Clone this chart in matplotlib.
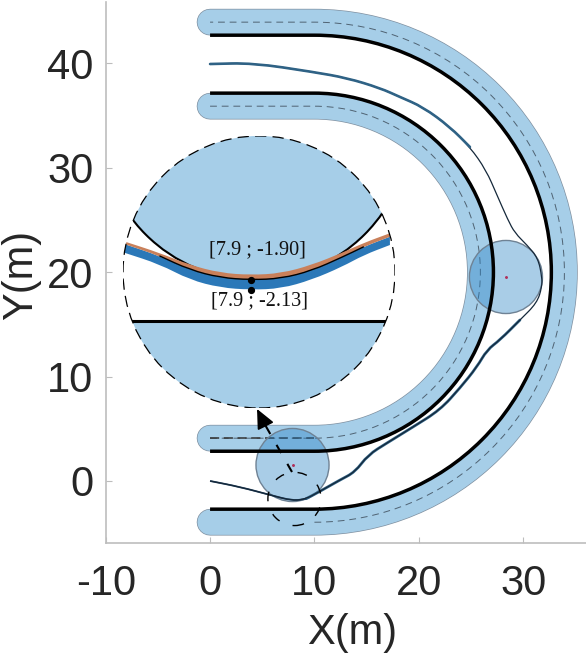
import matplotlib
matplotlib.use("Agg")
import numpy as np
import matplotlib.pyplot as plt
from matplotlib.patches import Circle, PathPatch
from matplotlib.path import Path

# road geometry (m)
bend_center = (10, 20)
road_outer = 22.7
road_inner = 17.15
band_outer = 23.95
band_inner = 15.9

# obstacles
obstacle_x = [7.9, 28.35]
obstacle_y = [1.53, 19.54]
obstacle_r = 3.5

# vehicle path
path_x = [0, 2.87, 5.75, 7.95, 9.2, 10.25, 12.45, 13.89, 15.13, 16.95, 19.44, 22.03,
          23.95, 25.57, 26.53, 27.78, 29.69, 31.32, 31.8, 31.8, 31.42, 30.36, 29.21,
          28.54, 27.49, 26.44, 24.9, 22.99, 20.4, 18.2, 16.28, 13.12, 9.87, 4.12, 0]
path_y = [0, -0.57, -1.34, -1.9, -1.7, -1.15, 0.1, 0.86, 2.49, 3.64, 5.17, 6.8,
          8.91, 10.92, 12.55, 13.51, 15.42, 17.05, 18.58, 19.54, 21.36, 22.61, 23.75,
          25.0, 27.39, 29.79, 31.99, 33.91, 35.82, 36.78, 37.64, 38.6, 39.18, 40.04, 39.94]

# zoomed part
zoom_center = (8.09, -1.72)
zoom_r = 2.55
inset_center = (4.69, 20.02)
inset_r = 13.03
zoom_x = [5.0, 5.8, 6.5, 7.2, 7.9, 8.6, 9.3, 10.0, 10.5, 11.1]
orange_top = [-1.02, -1.28, -1.56, -1.74, -1.79, -1.75, -1.56, -1.28, -1.05, -0.83]
orange_bot = [-1.08, -1.35, -1.67, -1.85, -1.90, -1.87, -1.69, -1.38, -1.14, -0.91]
blue_bot = [-1.28, -1.54, -1.90, -2.08, -2.13, -2.10, -1.90, -1.60, -1.33, -1.10]
mark_x = [7.9, 7.9]
mark_y = [-1.90, -2.13]
arrow_x = [7.85, 5.2, 4.5]
arrow_y = [0.86, 5.5, 6.9]

BAND = "#A6CEE8"
EDGE = "#7F8F9F"
TEXT = "#262626"
GREY = "#BDBDBD"

plt.rcParams["font.family"] = ["Liberation Sans", "DejaVu Sans"]
plt.rcParams["axes.unicode_minus"] = False
W, H = 586, 657
fig = plt.figure(figsize=(W / 100, H / 100), dpi=100)
ax = fig.add_axes([105.7 / W, (H - 543) / H, (W - 105.7) / W, 541 / H])
ax.set_xlim(-10, 36.02)
ax.set_ylim(-5.94, 45.88)


def road_path(r, straight_start=True):
    arc = Path.arc(-90, 90)
    cx, cy = bend_center
    keep = arc.codes != Path.CLOSEPOLY
    pts = arc.vertices[keep] * r + [cx, cy]
    codes = list(arc.codes[keep])
    if straight_start:
        pts = np.vstack([[0, cy - r], pts, [0, cy + r]])
        codes = [Path.MOVETO, Path.LINETO] + codes[1:] + [Path.LINETO]
    else:
        pts = np.vstack([pts, [0, cy + r]])
        codes = codes + [Path.LINETO]
    return Path(pts, codes)


def curve_parts(x, y, first=Path.MOVETO):
    # quadratic curve that uses the read points as control points
    p = np.column_stack([x, y])
    mid = (p[:-1] + p[1:]) / 2
    verts = [p[0], mid[0]]
    codes = [first, Path.LINETO]
    for i in range(1, len(p) - 1):
        verts += [p[i], mid[i]]
        codes += [Path.CURVE3, Path.CURVE3]
    verts.append(p[-1])
    codes.append(Path.LINETO)
    return verts, codes


def draw_curve(axes, x, y, **kw):
    verts, codes = curve_parts(x, y)
    return axes.add_patch(PathPatch(Path(verts, codes), fill=False, **kw))


def draw_strip(axes, x, top, bot, color, zorder):
    v1, c1 = curve_parts(x, top)
    v2, c2 = curve_parts(x[::-1], bot[::-1], first=Path.LINETO)
    return axes.add_patch(PathPatch(Path(v1 + v2, c1 + c2), fc=color, ec="none", zorder=zorder))


# blue road bands
for r in [band_outer, band_inner]:
    ax.add_patch(PathPatch(road_path(r), fill=False, lw=19.2, ec=EDGE, capstyle="round", zorder=1))
    ax.add_patch(PathPatch(road_path(r), fill=False, lw=18.2, ec=BAND, capstyle="round", zorder=1.1))

# dashed centre lines
ax.add_patch(PathPatch(road_path(band_outer, False), fill=False, lw=0.7, ec="#4F6272",
                       ls=(0, (7, 5)), zorder=1.2))
ax.add_patch(PathPatch(road_path(band_inner), fill=False, lw=0.7, ec="#4F6272",
                       ls=(0, (7, 5)), zorder=1.2))
ax.plot([0, 10], [20 - band_inner, 20 - band_inner], color="#333333", lw=1.1, ls=(0, (6, 3)), zorder=1.3)

# obstacles
for ox, oy in zip(obstacle_x, obstacle_y):
    ax.add_patch(Circle((ox, oy), obstacle_r, fc=(40 / 255, 130 / 255, 197 / 255, 0.4),
                        ec="#6F8294", lw=1, zorder=2))
    ax.plot(ox, oy, ".", color="#B0305A", ms=2.2, zorder=2.1)

# road edges
for r in [road_outer, road_inner]:
    ax.add_patch(PathPatch(road_path(r), fill=False, lw=2.5, ec="black", capstyle="butt", zorder=3))

# vehicle path: one whole curve, wider pieces laid under it
draw_curve(ax, path_x, path_y, ec="#15283A", lw=0.9, zorder=4.1)
draw_curve(ax, path_x[4:17], path_y[4:17], ec="#2F6285", lw=2, capstyle="round", zorder=4)
draw_curve(ax, path_x[:5], path_y[:5], ec="#1F3F5C", lw=1.3, zorder=4)
draw_curve(ax, path_x[26:], path_y[26:], ec="#2F6285", lw=1.9, capstyle="round", zorder=4.2)

# region that is magnified
ax.add_patch(Circle(zoom_center, zoom_r, fill=False, ec="black", lw=1, ls=(0, (7, 10)), zorder=5))
ax.plot(arrow_x[:2], arrow_y[:2], color="black", lw=1.5, ls=(0, (4.5, 6)), zorder=5)
ax.annotate("", xy=(arrow_x[2], arrow_y[2]), xytext=(arrow_x[1], arrow_y[1]),
            arrowprops=dict(arrowstyle="-|>,head_length=1.2,head_width=0.55", color="black",
                            lw=1.2, shrinkA=0, shrinkB=0), zorder=5)

# magnified view
ins = ax.inset_axes([inset_center[0] - inset_r, inset_center[1] - inset_r, 2 * inset_r, 2 * inset_r],
                    transform=ax.transData, zorder=6)
half = 3.127
ins.set_xlim(zoom_center[0] - half, zoom_center[0] + half)
ins.set_ylim(zoom_center[1] - half, zoom_center[1] + half)
ins.axis("off")
clip = Circle(zoom_center, half, transform=ins.transData)

ins.add_patch(Circle(zoom_center, half, fc="white", ec="none", zorder=0))
low = ins.fill_between([zoom_center[0] - half, zoom_center[0] + half], zoom_center[1] - half, -2.85,
                       color=BAND, lw=0, zorder=1)
low.set_clip_path(clip)
ln, = ins.plot([zoom_center[0] - half, zoom_center[0] + half], [-2.85, -2.85], color="black", lw=2.2, zorder=2)
ln.set_clip_path(clip)
up = Circle((8.0, 1.66), 3.56, fc=BAND, ec="black", lw=1.5, zorder=1.5)
ins.add_patch(up)
up.set_clip_path(clip)
b = draw_strip(ins, zoom_x, orange_bot, blue_bot, "#2B78B8", 3)
b.set_clip_path(clip)
o = draw_strip(ins, zoom_x, orange_top, orange_bot, "#C9805A", 3)
o.set_clip_path(clip)
edge = draw_curve(ins, zoom_x[1:9], orange_bot[1:9], ec="black", lw=1, zorder=3.2)
edge.set_clip_path(clip)
ins.plot(mark_x, mark_y, "o", color="black", ms=4.2, zorder=4)
ins.text(8.06, -1.21, f"[{mark_x[0]} ; {mark_y[0]:.2f}]", ha="center", va="center",
         family=["Liberation Serif"], fontsize=14.6, color="#111111", zorder=5)
ins.text(8.09, -2.39, f"[{mark_x[1]} ; {mark_y[1]:.2f}]", ha="center", va="center",
         family=["Liberation Serif"], fontsize=14.6, color="#111111", zorder=5)
ins.add_patch(Circle(zoom_center, half, fill=False, ec="black", lw=0.9, ls=(0, (9, 5)), zorder=6))

# axes look
for side in ["top", "right"]:
    ax.spines[side].set_visible(False)
for side in ["left", "bottom"]:
    ax.spines[side].set_color(GREY)
    ax.spines[side].set_linewidth(1.2)
ax.set_xticks([-10, 0, 10, 20, 30])
ax.set_yticks([0, 10, 20, 30, 40])
ax.tick_params(axis="x", direction="in", length=4, width=0.8, color=GREY, labelsize=30,
               labelcolor=TEXT, pad=15)
ax.tick_params(axis="y", direction="in", length=4, width=0.8, color=GREY, labelsize=30,
               labelcolor=TEXT, pad=9)
fig.text(352 / W, 1 - 633 / H, "X(m)", fontsize=30, color=TEXT, ha="center", va="center")
fig.text(21 / W, 1 - 275 / H, "Y(m)", fontsize=30, color=TEXT, ha="center", va="center", rotation=90)

fig.savefig("out.png", dpi=100)
